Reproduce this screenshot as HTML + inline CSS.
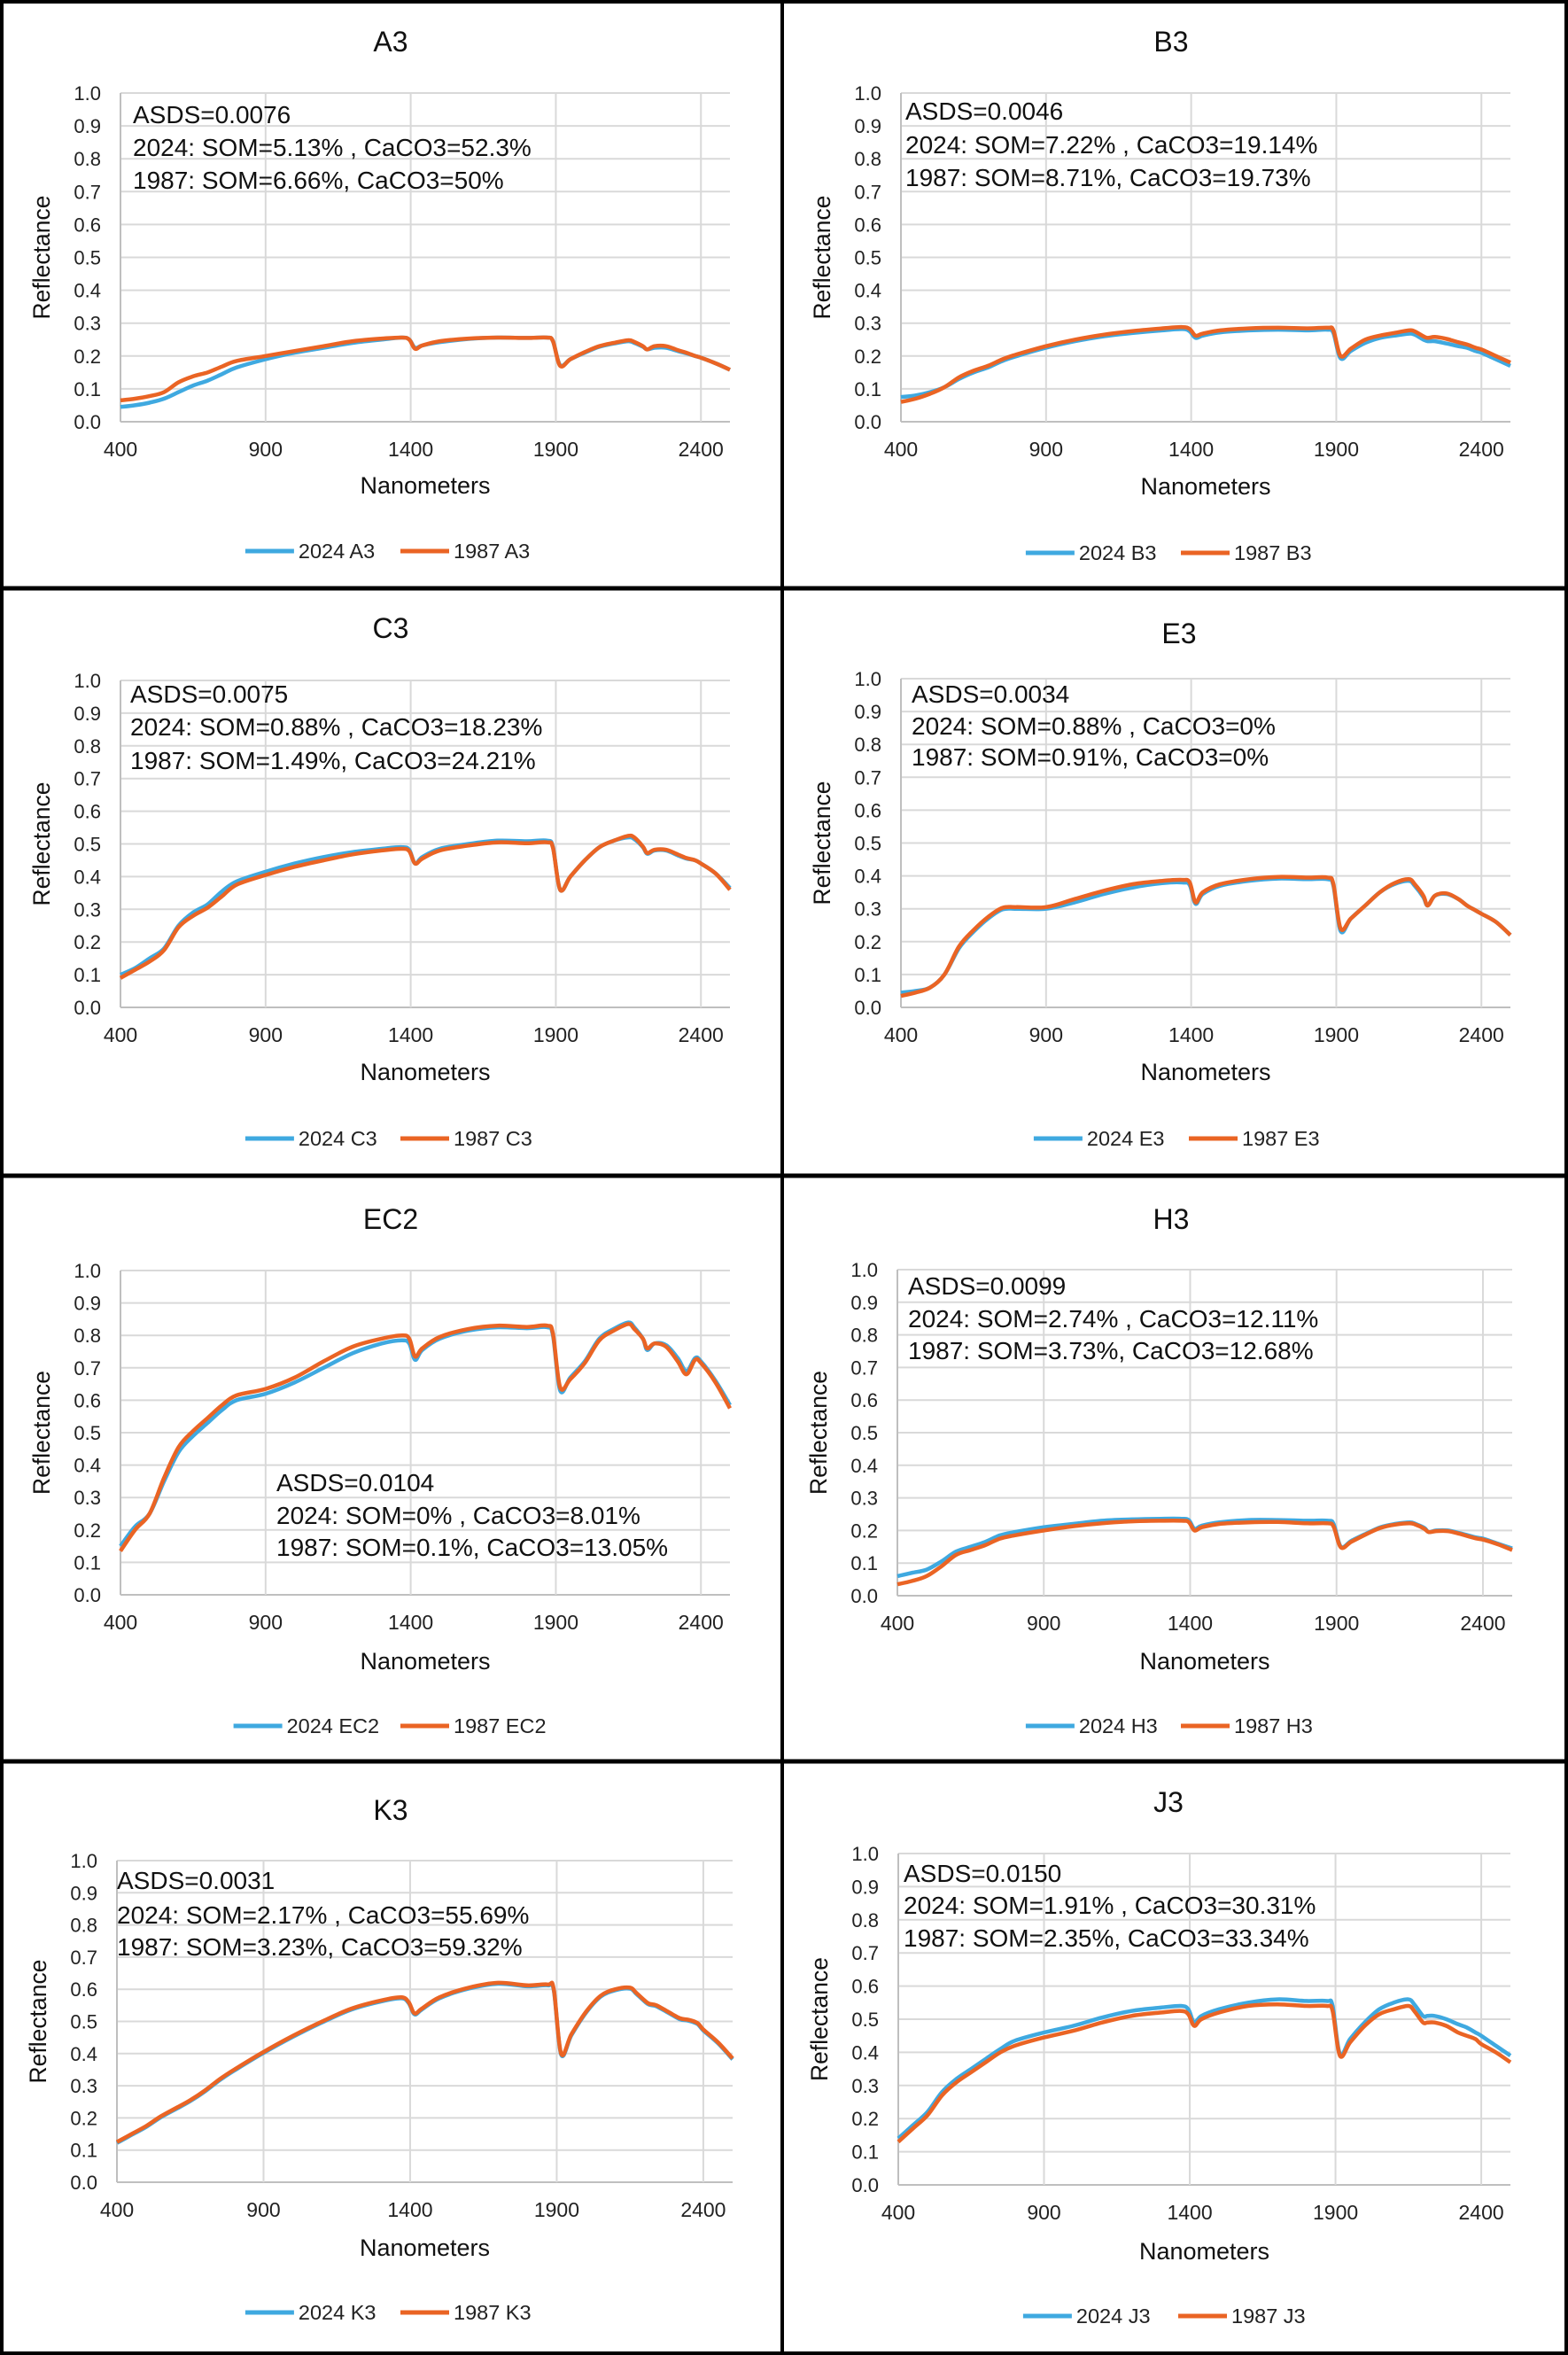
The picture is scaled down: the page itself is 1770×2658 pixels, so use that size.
<!DOCTYPE html>
<html><head><meta charset="utf-8">
<style>
html,body{margin:0;padding:0;background:#fff;}
svg{display:block;}
</style></head>
<body>
<svg id="s" width="1770" height="2658" xmlns="http://www.w3.org/2000/svg" font-family="Liberation Sans, sans-serif"></svg>
<script>
const W=[400,450,500,550,600,650,700,750,800,900,1000,1100,1200,1300,1370,1395,1415,1440,1500,1600,1700,1800,1870,1890,1915,1950,2000,2050,2100,2150,2170,2200,2215,2240,2280,2320,2350,2380,2400,2450,2500];
const K3a=[.125,.15,.175,.205,.23,.255,.285,.32,.35,.405,.455,.5,.54,.565,.575,.56,.525,.54,.575,.605,.62,.612,.615,.6,.4,.46,.53,.58,.6,.605,.59,.565,.555,.55,.53,.51,.505,.495,.475,.435,.385];
const P=[
{t:"A3",x0:136,x1:824,y0:105,y1:476,tx:150,ty:[129,166,203],cx:441,ty0:47,ny:548,ly:622,
 txt:["ASDS=0.0076","2024: SOM=5.13% , CaCO3=52.3%","1987: SOM=6.66%, CaCO3=50%"],
 a:[.045,.05,.058,.07,.09,.11,.125,.145,.165,.19,.21,.225,.24,.25,.256,.25,.225,.232,.242,.252,.256,.255,.256,.245,.172,.19,.21,.228,.238,.245,.24,.228,.22,.225,.225,.215,.208,.2,.195,.178,.158],
 b:[.065,.07,.078,.09,.12,.138,.15,.168,.185,.2,.215,.23,.245,.253,.256,.25,.222,.232,.245,.253,.256,.255,.256,.245,.17,.19,.212,.23,.24,.248,.243,.23,.22,.23,.23,.218,.21,.2,.195,.178,.158]},
{t:"B3",x0:1017,x1:1705,y0:105,y1:476,tx:1022,ty:[125,163,200],cx:1322,ty0:47,ny:549,ly:624,
 txt:["ASDS=0.0046","2024: SOM=7.22% , CaCO3=19.14%","1987: SOM=8.71%, CaCO3=19.73%"],
 a:[.075,.08,.09,.105,.13,.15,.165,.185,.2,.225,.245,.26,.27,.278,.282,.275,.255,.262,.272,.278,.28,.278,.28,.27,.193,.215,.24,.255,.262,.268,.265,.25,.245,.245,.238,.23,.225,.215,.21,.19,.17],
 b:[.06,.07,.085,.105,.135,.155,.17,.19,.205,.23,.25,.265,.276,.284,.288,.282,.262,.268,.278,.284,.286,.284,.286,.278,.2,.222,.25,.262,.27,.278,.275,.26,.255,.258,.252,.242,.235,.225,.22,.2,.18]},
{t:"C3",x0:136,x1:824,y0:768,y1:1137,tx:147,ty:[783,820,858],cx:441,ty0:709,ny:1210,ly:1285,
 txt:["ASDS=0.0075","2024: SOM=0.88% , CaCO3=18.23%","1987: SOM=1.49%, CaCO3=24.21%"],
 a:[.1,.12,.15,.18,.25,.29,.315,.355,.385,.415,.44,.46,.475,.485,.49,.482,.44,.46,.485,.5,.51,.508,.51,.49,.36,.4,.45,.49,.51,.52,.515,.49,.47,.48,.48,.465,.455,.45,.44,.41,.365],
 b:[.09,.115,.14,.175,.245,.28,.305,.34,.375,.405,.43,.45,.468,.48,.485,.478,.44,.455,.48,.495,.505,.502,.505,.488,.36,.4,.45,.49,.51,.525,.52,.492,.472,.482,.482,.468,.457,.45,.44,.41,.36]},
{t:"E3",x0:1017,x1:1705,y0:766,y1:1137,tx:1029,ty:[783,819,854],cx:1331,ty0:715,ny:1210,ly:1285,
 txt:["ASDS=0.0034","2024: SOM=0.88% , CaCO3=0%","1987: SOM=0.91%, CaCO3=0%"],
 a:[.045,.05,.06,.1,.18,.23,.27,.298,.3,.3,.32,.345,.365,.378,.38,.372,.315,.345,.37,.385,.392,.39,.39,.37,.232,.27,.31,.35,.375,.385,.37,.335,.31,.34,.345,.33,.31,.295,.285,.26,.22],
 b:[.035,.045,.06,.1,.185,.235,.275,.303,.305,.305,.33,.355,.375,.385,.388,.38,.32,.35,.375,.39,.397,.395,.395,.375,.24,.27,.31,.35,.378,.39,.375,.34,.31,.34,.347,.33,.31,.295,.285,.26,.22]},
{t:"EC2",x0:136,x1:824,y0:1434,y1:1800,tx:312,ty:[1673,1710,1746],cx:441,ty0:1376,ny:1875,ly:1948,
 txt:["ASDS=0.0104","2024: SOM=0% , CaCO3=8.01%","1987: SOM=0.1%, CaCO3=13.05%"],
 a:[.15,.21,.25,.35,.44,.49,.53,.57,.6,.62,.655,.7,.745,.775,.785,.775,.725,.755,.79,.815,.825,.822,.825,.8,.63,.67,.72,.79,.82,.84,.825,.79,.755,.775,.77,.73,.69,.73,.72,.66,.585],
 b:[.135,.2,.25,.36,.455,.505,.545,.585,.615,.635,.67,.72,.765,.79,.8,.79,.735,.76,.795,.82,.83,.826,.83,.805,.64,.665,.715,.785,.815,.835,.82,.79,.76,.775,.765,.72,.68,.725,.715,.655,.575]},
{t:"H3",x0:1013,x1:1707,y0:1433,y1:1801,tx:1025,ty:[1451,1488,1524],cx:1322,ty0:1376,ny:1875,ly:1948,
 txt:["ASDS=0.0099","2024: SOM=2.74% , CaCO3=12.11%","1987: SOM=3.73%, CaCO3=12.68%"],
 a:[.06,.07,.08,.105,.135,.15,.165,.185,.195,.21,.22,.23,.234,.236,.236,.232,.205,.215,.225,.232,.232,.23,.23,.22,.15,.168,.19,.21,.22,.225,.22,.208,.195,.2,.2,.192,.185,.178,.175,.16,.145],
 b:[.035,.045,.06,.09,.125,.14,.155,.175,.185,.2,.213,.222,.228,.23,.23,.226,.2,.21,.22,.225,.226,.222,.222,.212,.148,.165,.188,.208,.218,.222,.218,.205,.195,.198,.198,.19,.182,.175,.172,.158,.14]},
{t:"K3",x0:132,x1:827,y0:2100,y1:2463,tx:132,ty:[2122,2161,2197],cx:441,ty0:2043,ny:2537,ly:2610,
 txt:["ASDS=0.0031","2024: SOM=2.17% , CaCO3=55.69%","1987: SOM=3.23%, CaCO3=59.32%"],
 a:K3a.map(v=>v-.003), b:K3a},
{t:"J3",x0:1014,x1:1705,y0:2092,y1:2466,tx:1020,ty:[2114,2150,2187],cx:1319,ty0:2034,ny:2541,ly:2614,
 txt:["ASDS=0.0150","2024: SOM=1.91% , CaCO3=30.31%","1987: SOM=2.35%, CaCO3=33.34%"],
 a:[.14,.18,.22,.28,.32,.35,.38,.41,.435,.46,.48,.505,.525,.535,.54,.53,.49,.51,.53,.55,.56,.555,.555,.54,.395,.44,.49,.53,.55,.56,.545,.51,.51,.51,.5,.485,.475,.46,.45,.42,.39],
 b:[.13,.17,.21,.27,.31,.34,.37,.4,.42,.445,.465,.49,.51,.52,.525,.515,.48,.5,.52,.54,.545,.54,.54,.525,.39,.43,.48,.515,.53,.54,.525,.49,.49,.49,.48,.46,.45,.44,.425,.4,.37]}
];
function smooth(pts){
  let d=`M${pts[0][0].toFixed(1)},${pts[0][1].toFixed(1)}`;
  for(let i=0;i<pts.length-1;i++){
    const p0=pts[Math.max(0,i-1)],p1=pts[i],p2=pts[i+1],p3=pts[Math.min(pts.length-1,i+2)];
    const t=1/6;
    const c1=[p1[0]+(p2[0]-p0[0])*t,p1[1]+(p2[1]-p0[1])*t];
    const c2=[p2[0]-(p3[0]-p1[0])*t,p2[1]-(p3[1]-p1[1])*t];
    d+=`C${c1[0].toFixed(1)},${c1[1].toFixed(1)} ${c2[0].toFixed(1)},${c2[1].toFixed(1)} ${p2[0].toFixed(1)},${p2[1].toFixed(1)}`;
  }
  return d;
}
let h='<rect width="1770" height="2658" fill="#fff"/>';
for(const p of P){
  const X=w=>p.x0+(w-400)/2100*(p.x1-p.x0), Y=v=>p.y1-v*(p.y1-p.y0);
  for(let i=0;i<=10;i++){const y=Y(i/10);h+=`<line x1="${p.x0}" x2="${p.x1}" y1="${y}" y2="${y}" stroke="${i==0?'#bfbfbf':'#d9d9d9'}" stroke-width="2"/>`;
    h+=`<text x="${p.x0-22}" y="${y+8}" font-size="22" text-anchor="end" fill="#222">${(i/10).toFixed(1)}</text>`;}
  for(const w of [400,900,1400,1900,2400]){const x=X(w);h+=`<line x1="${x}" x2="${x}" y1="${p.y0}" y2="${p.y1}" stroke="${w==400?'#bfbfbf':'#d9d9d9'}" stroke-width="2"/>`;
    h+=`<text x="${x}" y="${p.y1+39}" font-size="23" text-anchor="middle" fill="#222">${w}</text>`;}
  h+=`<text x="${p.cx}" y="${p.ty0+11}" font-size="32" text-anchor="middle" fill="#111">${p.t}</text>`;
  h+=`<text x="${(p.x0+p.x1)/2}" y="${p.ny+9}" font-size="27" text-anchor="middle" fill="#111">Nanometers</text>`;
  const ym=(p.y0+p.y1)/2, lx=p.x0-80;
  h+=`<text transform="translate(${lx},${ym}) rotate(-90)" font-size="26.5" text-anchor="middle" fill="#111">Reflectance</text>`;
  p.txt.forEach((s,i)=>{h+=`<text x="${p.tx}" y="${p.ty[i]+10}" font-size="28" fill="#111">${s}</text>`;});
  const pts=a=>W.map((w,i)=>[X(w),Y(a[i])]);
  h+=`<path d="${smooth(pts(p.a))}" fill="none" stroke="#3FA9E0" stroke-width="4.5" stroke-linejoin="round"/>`;
  h+=`<path d="${smooth(pts(p.b))}" fill="none" stroke="#EA6424" stroke-width="4.5" stroke-linejoin="round"/>`;
  const l1="2024 "+p.t, l2="1987 "+p.t, cw=13.3;
  const tw=55+5+l1.length*cw+22+55+5+l2.length*cw;
  let x=p.cx-tw/2;
  h+=`<line x1="${x}" x2="${x+55}" y1="${p.ly}" y2="${p.ly}" stroke="#3FA9E0" stroke-width="5"/>`;x+=60;
  h+=`<text x="${x}" y="${p.ly+8}" font-size="23.5" fill="#222">${l1}</text>`;x+=l1.length*cw+22;
  h+=`<line x1="${x}" x2="${x+55}" y1="${p.ly}" y2="${p.ly}" stroke="#EA6424" stroke-width="5"/>`;x+=60;
  h+=`<text x="${x}" y="${p.ly+8}" font-size="23.5" fill="#222">${l2}</text>`;
}
h+='<rect x="2" y="2" width="1766" height="2654" fill="none" stroke="#000" stroke-width="4"/>';
h+='<line x1="883" x2="883" y1="0" y2="2658" stroke="#000" stroke-width="4"/>';
for(const y of [664,1327,1988]) h+=`<line x1="0" x2="1770" y1="${y}" y2="${y}" stroke="#000" stroke-width="5"/>`;
document.getElementById('s').innerHTML=h;
</script>
</body></html>
